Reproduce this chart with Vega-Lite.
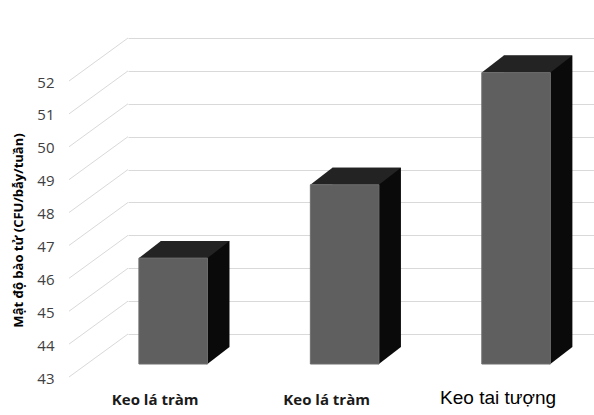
{
  "$schema": "https://vega.github.io/schema/vega-lite/v6.json",
  "width": 466,
  "height": 296,
  "autosize": {"type": "none"},
  "padding": {"left": 128, "top": 38, "right": 0, "bottom": 81},
  "background": "white",
  "config": {
    "view": {"stroke": null},
    "axisY": {
      "tickCount": 10,
      "labelOverlap": false,
      "grid": true,
      "gridColor": "#d9d9d9",
      "gridWidth": 1,
      "ticks": false,
      "domain": false,
      "labelOffset": 44,
      "labelPadding": 74,
      "labelFont": "Open Sans",
      "labelFontSize": 15,
      "labelColor": "#404040",
      "titleFont": "Open Sans",
      "titleFontSize": 13,
      "titleFontWeight": "bold",
      "titleColor": "#000000",
      "titleX": -110,
      "titleY": 192,
      "titleAngle": -90,
      "titleAlign": "center",
      "titleBaseline": "middle"
    }
  },
  "datasets": {
    "cot": [
      {"stt": 1, "ten": "Keo lá tràm", "v": 46.22},
      {"stt": 2, "ten": "Keo lá tràm", "v": 48.45},
      {"stt": 3, "ten": "Keo tai tượng", "v": 51.86}
    ],
    "luoi": [
      {"muc": 43}, {"muc": 44}, {"muc": 45}, {"muc": 46}, {"muc": 47},
      {"muc": 48}, {"muc": 49}, {"muc": 50}, {"muc": 51}, {"muc": 52}
    ]
  },
  "layer": [
    {
      "data": {"name": "luoi"},
      "mark": {"type": "rule", "color": "#d9d9d9", "strokeWidth": 1, "y2Offset": 43},
      "encoding": {
        "x": {"value": 0},
        "x2": {"value": -59},
        "y": {
          "field": "muc",
          "type": "quantitative",
          "scale": {"domain": [43, 52], "zero": false, "nice": false},
          "title": "Mật độ bào tử (CFU/bẫy/tuần)"
        },
        "y2": {"field": "muc"}
      }
    },
    {
      "data": {"name": "cot"},
      "mark": {"type": "bar", "color": "#0a0a0a", "xOffset": 22, "yOffset": 13, "y2Offset": 13},
      "encoding": {
        "x": {
          "field": "stt",
          "type": "nominal",
          "scale": {"paddingInner": 0.6, "paddingOuter": 0.159, "align": 0.2},
          "axis": null
        },
        "y": {"field": "v", "type": "quantitative", "title": "Mật độ bào tử (CFU/bẫy/tuần)"},
        "y2": {"datum": 43}
      }
    },
    {
      "data": {"name": "cot"},
      "mark": {
        "type": "point",
        "shape": "M0.56,0.01L0.56,-0.2833L0.9382,-0.2833Z",
        "size": 14400,
        "filled": true,
        "fill": "#0a0a0a",
        "opacity": 1,
        "strokeWidth": 0,
        "yOffset": 30
      },
      "encoding": {
        "x": {"field": "stt", "type": "nominal", "axis": null},
        "y": {"datum": 43, "type": "quantitative", "title": "Mật độ bào tử (CFU/bẫy/tuần)"}
      }
    },
    {
      "data": {"name": "cot"},
      "mark": {
        "type": "point",
        "shape": "M-0.5715,0L0.5715,0L0.9382,-0.2833L-0.2048,-0.2833Z",
        "size": 14400,
        "filled": true,
        "fill": "#232323",
        "opacity": 1,
        "strokeWidth": 0,
        "yOffset": 30
      },
      "encoding": {
        "x": {"field": "stt", "type": "nominal", "axis": null},
        "y": {"field": "v", "type": "quantitative", "title": "Mật độ bào tử (CFU/bẫy/tuần)"}
      }
    },
    {
      "data": {"name": "cot"},
      "mark": {"type": "bar", "color": "#5f5f5f", "stroke": "#6e6e6e", "strokeWidth": 1, "yOffset": 30, "y2Offset": 30},
      "encoding": {
        "x": {"field": "stt", "type": "nominal", "axis": null},
        "y": {"field": "v", "type": "quantitative", "title": "Mật độ bào tử (CFU/bẫy/tuần)"},
        "y2": {"datum": 43}
      }
    },
    {
      "data": {"name": "cot"},
      "transform": [{"filter": "datum.stt < 3"}],
      "mark": {
        "type": "text",
        "font": "Open Sans",
        "fontSize": 15,
        "fontWeight": "bold",
        "color": "#1a1a1a",
        "xOffset": -18,
        "yOffset": 66,
        "baseline": "middle",
        "align": "center"
      },
      "encoding": {
        "x": {"field": "stt", "type": "nominal", "axis": null},
        "y": {"datum": 43, "type": "quantitative", "title": "Mật độ bào tử (CFU/bẫy/tuần)"},
        "text": {"field": "ten"}
      }
    },
    {
      "data": {"name": "cot"},
      "transform": [{"filter": "datum.stt == 3"}],
      "mark": {
        "type": "text",
        "font": "Liberation Sans",
        "fontSize": 19,
        "fontWeight": "normal",
        "color": "#000000",
        "xOffset": -18,
        "yOffset": 64,
        "baseline": "middle",
        "align": "center"
      },
      "encoding": {
        "x": {"field": "stt", "type": "nominal", "axis": null},
        "y": {"datum": 43, "type": "quantitative", "title": "Mật độ bào tử (CFU/bẫy/tuần)"},
        "text": {"field": "ten"}
      }
    }
  ]
}
